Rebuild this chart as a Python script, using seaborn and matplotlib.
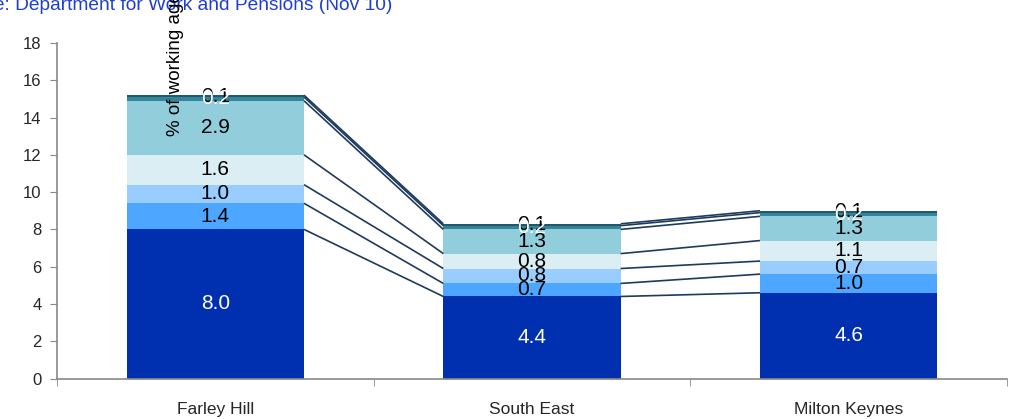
import numpy as np
import pandas as pd
import matplotlib
matplotlib.use("Agg")
import matplotlib.pyplot as plt
import seaborn as sns

categories = ["Farley Hill", "South East", "Milton Keynes"]
seg1 = [8.0, 4.4, 4.6]
seg2 = [1.4, 0.7, 1.0]
seg3 = [1.0, 0.8, 0.7]
seg4 = [1.6, 0.8, 1.1]
seg5 = [2.9, 1.3, 1.3]
seg6 = [0.2, 0.2, 0.2]
seg7 = [0.1, 0.1, 0.1]
segments = [seg1, seg2, seg3, seg4, seg5, seg6, seg7]
colors = ["#0030B0", "#4DA6FF", "#99CCFF", "#DAEEF3", "#92CDDC", "#31859C", "#215967"]
label_colors = ["white", "black", "black", "black", "black", "white", "black"]
label_z = [5, 5, 5, 5, 5, 7, 6]
yticks = [0, 2, 4, 6, 8, 10, 12, 14, 16, 18]
title_text = "Source: Department for Work and Pensions (Nov 10)"
ylabel_text = "% of working age population"

sns.set_style("white")
plt.rcParams['font.family'] = ['Liberation Sans', 'DejaVu Sans']

fig = plt.figure(figsize=(10.10, 4.19), dpi=100)
ax = fig.add_axes([57 / 1010, (419 - 378.5) / 419, 950 / 1010, (378.5 - 43) / 419])

bw = 0.56
bottoms = np.zeros(len(categories))
for vals, col, lc, z in zip(segments, colors, label_colors, label_z):
    df = pd.DataFrame({"cat": categories, "val": vals})
    sns.barplot(data=df, x="cat", y="val", color=col, saturation=1, width=bw,
                bottom=bottoms.copy(), linewidth=0, ax=ax, errorbar=None)
    for i, v in enumerate(vals):
        ax.text(i, bottoms[i] + v / 2, f"{v:.1f}", ha="center", va="center",
                fontsize=15, color=lc, zorder=z)
    bottoms = bottoms + np.array(vals)

# connector lines
cum = np.cumsum(np.array(segments), axis=0)
for k in range(cum.shape[0]):
    for i in range(len(categories) - 1):
        ax.plot([i + bw / 2, i + 1 - bw / 2], [cum[k, i], cum[k, i + 1]],
                color="#1F3A5F", lw=1.2, solid_capstyle="butt", zorder=1)

ax.set_xlim(-0.5, len(categories) - 0.5)
ax.set_ylim(0, 18)
ax.set_yticks(yticks)
ax.set_xlabel("")
ax.set_ylabel("")
for s in ["top", "right"]:
    ax.spines[s].set_visible(False)
for s in ["left", "bottom"]:
    ax.spines[s].set_color("#888888")
    ax.spines[s].set_linewidth(1.2)
ax.tick_params(axis="y", length=5, color="#888888", labelsize=12, direction="out", left=True, pad=6)
ax.tick_params(axis="x", which="major", length=0, labelsize=12.5, pad=17)
ax.set_xticks([-0.5, 0.5, 1.5, 2.5], minor=True)
ax.tick_params(axis="x", which="minor", length=5, color="#888888", direction="out", bottom=True)

# overlapping y-label text as in reference
fig.text(175 / 1010, 1 - 136 / 419, ylabel_text, rotation=90, ha="center", va="bottom",
         fontsize=13.5, color="black", zorder=10)
# clipped source title
fig.text(392 / 1010, 1 - 9.5 / 419, title_text, ha="right", va="baseline",
         fontsize=13.8, color="#1F3FCC")

fig.savefig("out.png", dpi=100)
